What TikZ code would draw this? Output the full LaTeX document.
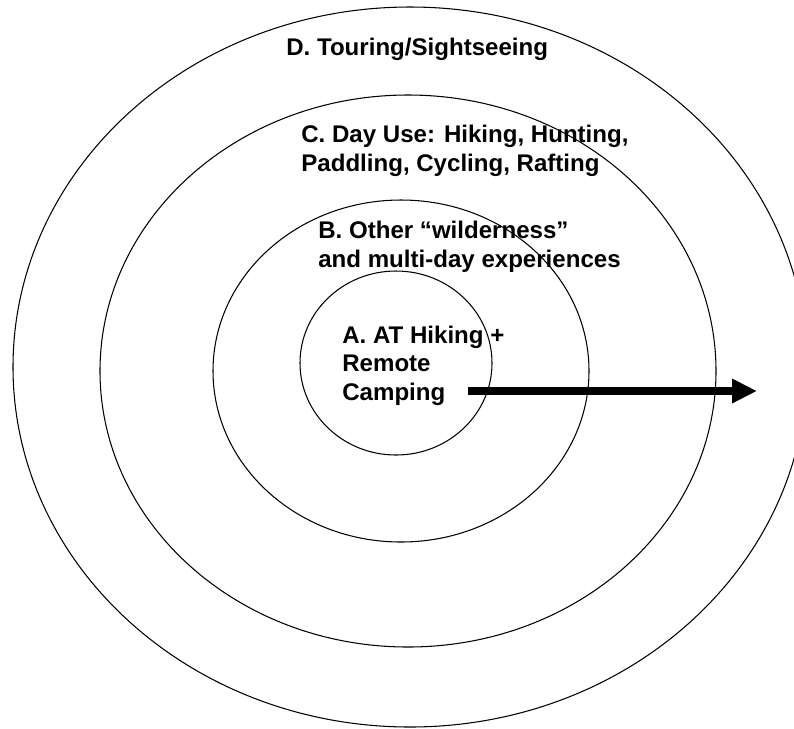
\documentclass[tikz,border=0pt]{standalone}
\usepackage{fontspec}
\setmainfont{Liberation Sans}
\usetikzlibrary{positioning, arrows.meta}

\begin{document}
\begin{tikzpicture}[
  x=0.02cm, y=-0.02cm,
  ring/.style={draw=black, line width=0.6pt},
  zone/.style={
    anchor=base west, align=left, inner sep=0pt,
    font=\bfseries\fontsize{13.7}{16.4}\selectfont
  },
  arrow/.style={-{Triangle[length=0.5cm, width=0.46cm]}, line width=0.16cm}
]
  \useasboundingbox (0,0) rectangle (794,728);
  \clip (0,0) rectangle (794,728);

  % rings, outer to inner
  \draw[ring] (410,367) ellipse [x radius=397, y radius=360];
  \draw[ring] (408,371) ellipse [x radius=308, y radius=276];
  \draw[ring] (401,371) ellipse [x radius=188, y radius=171];
  \draw[ring] (396,363) ellipse [x radius=96, y radius=92];

  % labels (base = last line)
  \node[zone] (zoneD) at (286,55) {D. Touring/Sightseeing};
  \node[zone] (zoneC) at (301,171.7) {C. Day Use: Hiking, Hunting,\\Paddling, Cycling, Rafting};
  \node[zone] (zoneB) at (318,267) {B. Other “wilderness”\\and multi-day experiences};
  \node[zone] (zoneA) at (342,400.7) {A. AT Hiking +\\Remote\\Camping};

  \coordinate (arrStart) at (468,391);
  \coordinate (arrEnd) at (757,391);
  \draw[arrow] (arrStart) -- (arrEnd);
\end{tikzpicture}
\end{document}
